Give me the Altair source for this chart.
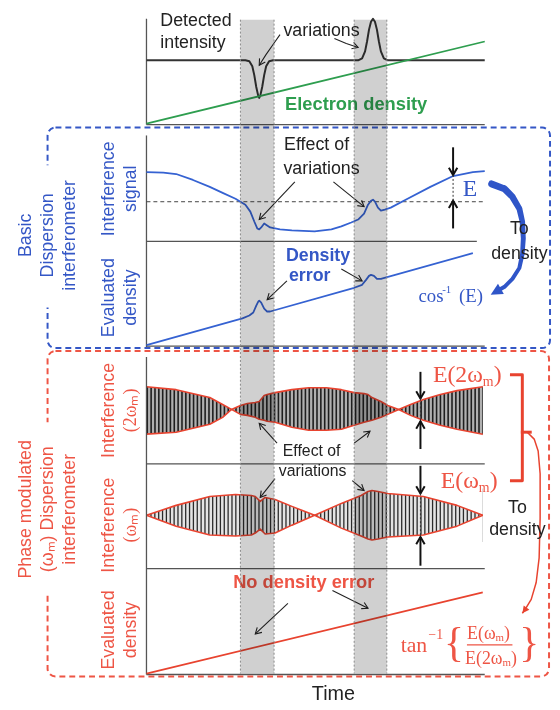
import math
import altair as alt
import pandas as pd

# ------------------------------------------------------------------
# Values read off the reference schematic (figure units: time runs
# along x from 148 to 490, signals are given in the same drawing units)
# ------------------------------------------------------------------
BAND_T0 = [243, 358]
BAND_T1 = [277, 391]
BAND_TOP, BAND_BOTTOM = 16, 677

# top panel: detected intensity (dip and peak) and electron density
INT_T = [148, 248, 252, 255, 257, 259, 261, 262, 263, 265, 267, 269, 272, 276,
         362, 366, 369, 371, 373, 375, 377, 379, 381, 383, 385, 388, 392, 490]
INT_V = [57, 57, 58, 63, 72, 84, 93, 95, 93, 84, 72, 63, 58, 57,
         57, 55, 48, 38, 26, 18, 15, 18, 26, 38, 48, 55, 57, 57]
NE_T = [148, 490]
NE_V = [121, 38]

# basic dispersion interferometer: interference signal
SIG_T = [148, 165, 178, 195, 212, 225, 238, 248, 253, 257, 260, 262, 264, 267, 270, 273,
         283, 295, 318, 335, 345, 355, 362, 368, 372, 375, 377, 379, 382, 385, 389, 395,
         412, 435, 458, 478, 490]
SIG_V = [170, 170.5, 172, 178, 185, 191, 197, 203, 210, 220, 227, 228, 226, 222, 224, 226,
         228, 229, 230, 228, 225, 221, 218, 212, 203, 199, 198, 200, 206, 209, 208, 206,
         197, 185, 174, 170, 169]
SIG_REF = 200

# basic DI: evaluated density
EVB_T = [148, 245, 252, 256, 259, 261, 262, 264, 267, 270, 273, 358, 366, 370, 373,
         375, 378, 381, 385, 478]
EVB_V = [345, 318, 315, 312, 305, 301, 300, 302, 308, 311, 311, 287, 284, 279, 275,
         274, 275, 278, 278, 252]

# phase-modulated DI: envelope of the 2*wm interference signal
ENV2_T = [148, 178, 212, 225, 234, 243, 250, 258, 262, 267, 270, 278, 295, 312, 330,
          345, 358, 368, 372, 376, 385, 392, 403, 415, 428, 445, 462, 488]
ENV2_UP = [387, 390, 398, 405, 410, 406, 404, 403, 402, 396, 395, 393, 390, 388, 388,
           390, 393, 394, 395, 398, 402, 406, 410, 405, 400, 395, 391, 387]
ENV2_LO = [435, 433, 425, 418, 410, 415, 416, 418, 420, 421, 422, 423, 428, 431, 431,
           430, 426, 423, 422, 421, 418, 415, 410, 416, 421, 426, 430, 435]
ENV2_MID, ENV2_W = 411, 50

# phase-modulated DI: envelope of the wm interference signal
ENV1_T = [148, 178, 212, 238, 254, 258, 263, 268, 278, 295, 318, 345, 365, 372, 376,
          382, 392, 428, 462, 488]
ENV1_UP = [517, 507, 498, 496, 497, 498, 503, 499, 501, 508, 517, 505, 497, 493, 492,
           493, 495, 498, 507, 517]
ENV1_LO = [517, 528, 537, 538, 537, 535, 531, 536, 535, 527, 517, 530, 538, 541, 542,
           541, 539, 537, 528, 517]
ENV1_MID, ENV1_W = 517, 54

# phase-modulated DI: evaluated density
EVR_T = [148, 488]
EVR_V = [677, 595]

# ------------------------------------------------------------------
BLUE = "#3457c6"
RED = "#ee5545"
RED_LINE = "#e8432f"
GREEN = "#2e9e4f"
BLACK = "#222222"
AXIS = "#555555"

XS = alt.Scale(domain=[8, 558], nice=False, zero=False)
YS = alt.Scale(domain=[8, 708], nice=False, zero=False, reverse=True)


def X(f="x"):
    return alt.X(f"{f}:Q", scale=XS, axis=None)


def Y(f="y"):
    return alt.Y(f"{f}:Q", scale=YS, axis=None)


def paths_df(paths):
    rows = []
    for i, (xs, ys) in enumerate(paths):
        for j, (a, b) in enumerate(zip(xs, ys)):
            rows.append({"id": i, "o": j, "x": a, "y": b})
    return pd.DataFrame(rows)


def line_layer(paths, color, width, dash=None, cap="butt"):
    kw = dict(color=color, strokeWidth=width, strokeCap=cap, strokeJoin="round", opacity=1)
    if dash:
        kw["strokeDash"] = dash
    return alt.Chart(paths_df(paths)).mark_line(**kw).encode(
        x=X(), y=Y(), detail="id:N", order="o:Q")


def area_layer(parts, color):
    rows = []
    for i, (xs, y1, y2) in enumerate(parts):
        for a, b, c in zip(xs, y1, y2):
            rows.append({"id": i, "x": a, "y": b, "y2": c})
    return alt.Chart(pd.DataFrame(rows)).mark_area(color=color, opacity=1).encode(
        x=X(), y=Y(), y2=alt.Y2("y2:Q"), detail="id:N")


OPEN_HEAD = "M -0.75 1.3 L 0 0 L 0.75 1.3"
FILL_HEAD = "M 0 0 L 0.85 1.7 L -0.85 1.7 Z"


def head_layer(paths, color, size, width=1.2, filled=False):
    rows = []
    for xs, ys in paths:
        dx = xs[-1] - xs[-2]
        dy = ys[-1] - ys[-2]
        rows.append({"x": xs[-1], "y": ys[-1],
                     "a": math.degrees(math.atan2(dx, -dy)) % 360})
    return alt.Chart(pd.DataFrame(rows)).mark_point(
        shape=FILL_HEAD if filled else OPEN_HEAD, size=size, filled=filled,
        color=color, strokeWidth=width, opacity=1, strokeJoin="miter").encode(
        x=X(), y=Y(), angle=alt.Angle("a:Q", scale=None))


def text_layer(rows, font="Liberation Sans", weight="normal", align="center"):
    df = pd.DataFrame(rows, columns=["t", "x", "y", "s", "c", "a"])
    return alt.Chart(df).mark_text(font=font, fontWeight=weight, align=align,
                                   baseline="middle").encode(
        x=X(), y=Y(), text="t:N", size=alt.Size("s:Q", scale=None),
        color=alt.Color("c:N", scale=None), angle=alt.Angle("a:Q", scale=None))


def rect_df(x, x2, y, y2):
    return pd.DataFrame({"x": x, "x2": x2, "y": y, "y2": y2})


layers = []

# --- modulated interference carriers (fill, stripes, mask) ---
layers.append(area_layer([(ENV2_T, ENV2_UP, ENV2_LO)], "#b0b0b0"))
layers.append(area_layer([(ENV1_T, ENV1_UP, ENV1_LO)], "#e4e4e4"))
layers.append(line_layer([([148, 488], [ENV2_MID, ENV2_MID])], "#1e1e1e", ENV2_W, dash=[1.6, 2.3]))
layers.append(line_layer([([148, 488], [ENV1_MID, ENV1_MID])], "#2a2a2a", ENV1_W, dash=[1.3, 2.6]))
top2 = ENV2_MID - ENV2_W / 2 - 3
bot2 = ENV2_MID + ENV2_W / 2 + 3
top1 = ENV1_MID - ENV1_W / 2 - 3
bot1 = ENV1_MID + ENV1_W / 2 + 3
layers.append(area_layer([
    (ENV2_T, [top2] * len(ENV2_T), ENV2_UP),
    (ENV2_T, ENV2_LO, [bot2] * len(ENV2_T)),
    (ENV1_T, [top1] * len(ENV1_T), ENV1_UP),
    (ENV1_T, ENV1_LO, [bot1] * len(ENV1_T)),
], "white"))
layers.append(line_layer([(ENV2_T, ENV2_UP), (ENV2_T, ENV2_LO),
                          (ENV1_T, ENV1_UP), (ENV1_T, ENV1_LO)], RED_LINE, 1.6))

# --- panel frames ---
layers.append(line_layer([
    ([148, 148], [15, 122]), ([148, 490], [122, 122]),
    ([148, 148], [133, 347]), ([148, 482], [240, 240]), ([148, 490], [346, 346]),
    ([148, 148], [357, 678]), ([148, 490], [465, 465]), ([148, 490], [571, 571]),
    ([148, 490], [678, 678]),
], AXIS, 1.3))
layers.append(line_layer([([148, 490], [SIG_REF, SIG_REF])], "#444444", 1, dash=[4, 3]))

# --- signals ---
layers.append(line_layer([(INT_T, INT_V)], "#333333", 2))
layers.append(line_layer([(NE_T, NE_V)], GREEN, 1.8))
layers.append(line_layer([(SIG_T, SIG_V), (EVB_T, EVB_V)], "#3562d2", 1.8))
layers.append(line_layer([(EVR_T, EVR_V)], RED_LINE, 1.8))

# --- dashed group boxes ---
layers.append(alt.Chart(rect_df([48], [556], [125], [348])).mark_rect(
    fillOpacity=0, stroke=BLUE, strokeWidth=2, strokeDash=[6, 4], cornerRadius=8).encode(
    x=X(), x2=alt.X2("x2:Q"), y=Y(), y2=alt.Y2("y2:Q")))
layers.append(alt.Chart(rect_df([48], [555], [351], [680])).mark_rect(
    fillOpacity=0, stroke=RED, strokeWidth=2, strokeDash=[6, 4], cornerRadius=8).encode(
    x=X(), x2=alt.X2("x2:Q"), y=Y(), y2=alt.Y2("y2:Q")))
layers.append(line_layer([([48, 48], [163, 307]), ([48, 48], [423, 597])], "white", 6))

# --- thin annotation arrows ---
thin = [
    ([283, 276, 269, 262], [31, 41, 51, 62]),
    ([338, 350, 362], [35, 40, 44]),
    ([298, 262], [180, 218]),
    ([337, 368], [180, 205]),
    ([290, 270], [280, 299]),
    ([345, 366], [268, 280]),
    ([280, 262], [444, 424]),
    ([358, 374], [444, 432]),
    ([278, 263], [480, 499]),
    ([356, 368], [482, 492]),
    ([291, 258], [606, 637]),
    ([336, 372], [593, 611]),
]
layers.append(line_layer(thin, "#222222", 1.1))
layers.append(head_layer(thin, "#222222", 85, width=1.1))

# --- E arrows (thick) ---
ear = [
    ([458, 458], [145, 173]), ([458, 458], [227, 199]),
    ([425, 425], [372, 399]), ([425, 425], [450, 422]),
    ([425, 425], [467, 495]), ([425, 425], [568, 539]),
]
layers.append(line_layer(ear, "#111111", 2))
layers.append(head_layer(ear, "#111111", 130, width=2))
layers.append(line_layer([([458, 458], [173, 199]), ([425, 425], [399, 422]),
                          ([425, 425], [495, 539])], "#333333", 1, dash=[2, 2]))

# --- big blue "to density" arrow ---
ARC_X = [497, 510, 518, 525, 528, 529, 528, 525, 518, 510, 503]
ARC_Y = [182, 187, 195, 207, 220, 237, 253, 267, 278, 286, 290]
ARC_W = [7, 7, 6.5, 6, 5.5, 5, 4.5, 4, 4, 4, 4]
layers.append(alt.Chart(pd.DataFrame({"o": range(len(ARC_X)), "x": ARC_X, "y": ARC_Y, "w": ARC_W}))
              .mark_trail(color="#2f55c8").encode(x=X(), y=Y(), size=alt.Size("w:Q", scale=None),
                                                 order="o:Q"))
layers.append(head_layer([([510, 496], [286, 294])], "#2f55c8", 196, filled=True))

# --- red bracket and thin red arrow ---
layers.append(line_layer([([517, 528, 528, 517], [375, 375, 482, 482]),
                          ([528, 536], [433, 433])], RED_LINE, 3, cap="square"))
rcurve = ([533, 540, 544, 546, 546, 545, 542, 537, 531, 528],
          [433, 440, 452, 475, 520, 560, 585, 602, 612, 616])
layers.append(line_layer([rcurve], RED_LINE, 1.5))
layers.append(head_layer([rcurve], RED_LINE, 70, filled=True))
layers.append(line_layer([([472, 518], [648, 648])], RED, 1.2))

# --- texts ---
layers.append(text_layer([
    ("variations", 325, 27, 18, BLACK, 0),
    ("Effect of", 320, 143, 18, BLACK, 0),
    ("variations", 325, 167, 18, BLACK, 0),
    ("To", 525, 228, 18, BLACK, 0),
    ("density", 525, 253, 18, BLACK, 0),
    ("Effect of", 315, 452, 16, BLACK, 0),
    ("variations", 316, 472, 16, BLACK, 0),
    ("To", 523, 510, 18, BLACK, 0),
    ("density", 523, 532, 18, BLACK, 0),
    ("Time", 337, 698, 20, BLACK, 0),
    ("Basic", 26, 234, 18, BLUE, 270),
    ("Dispersion", 49, 234, 18, BLUE, 270),
    ("interferometer", 71, 234, 18, BLUE, 270),
    ("Interference", 110, 187, 18, BLUE, 270),
    ("signal", 132, 187, 18, BLUE, 270),
    ("Evaluated", 110, 297, 18, BLUE, 270),
    ("density", 132, 297, 18, BLUE, 270),
    ("Phase modulated", 26, 511, 18, RED, 270),
    ("(ωₘ) Dispersion", 49, 511, 18, RED, 270),
    ("interferometer", 71, 511, 18, RED, 270),
    ("Interference", 110, 411, 18, RED, 270),
    ("Interference", 110, 527, 18, RED, 270),
    ("Evaluated", 110, 633, 18, RED, 270),
    ("density", 132, 633, 18, RED, 270),
]))
layers.append(text_layer([
    ("Detected", 162, 17, 18, BLACK, 0),
    ("intensity", 162, 40, 18, BLACK, 0),
], align="left"))
layers.append(text_layer([
    ("Electron density", 360, 101, 18.5, GREEN, 0),
    ("No density error", 307, 585, 18.5, RED, 0),
], weight="bold"))
layers.append(text_layer([
    ("Density", 289, 255, 18, BLUE, 0),
    ("error", 292, 275, 18, BLUE, 0),
], weight="bold", align="left"))
layers.append(text_layer([
    ("E", 475, 187, 24, BLUE, 0),
    ("(2ωₘ)", 132, 411, 18, RED, 270),
    ("(ωₘ)", 132, 527, 18, RED, 270),
    ("{", 459, 646, 42, RED, 0),
    ("}", 535, 646, 42, RED, 0),
], font="Liberation Serif"))
layers.append(text_layer([
    ("cos", 423, 295, 19, BLUE, 0),
    ("-1", 447, 289, 11, BLUE, 0),
    ("(E)", 464, 295, 19, BLUE, 0),
    ("m", 488, 382, 14, RED, 0),
    (")", 499, 375, 24, RED, 0),
    ("m", 484, 489, 14, RED, 0),
    (")", 495, 482, 24, RED, 0),
    ("tan", 405, 648, 22, RED, 0),
    ("−1", 433, 638, 14, RED, 0),
    ("m", 501, 641, 11, RED, 0),
    (")", 509.5, 637, 18, RED, 0),
    ("m", 508, 666, 11, RED, 0),
    (")", 516.5, 662, 18, RED, 0),
], font="Liberation Serif", align="left"))
layers.append(text_layer([
    ("E(2ω", 488, 375, 24, RED, 0),
    ("E(ω", 484, 482, 24, RED, 0),
    ("E(ω", 501, 637, 18, RED, 0),
    ("E(2ω", 508, 662, 18, RED, 0),
], font="Liberation Serif", align="right"))

# --- shaded variation windows (multiplied over everything) ---
layers.append(alt.Chart(rect_df(BAND_T0, BAND_T1, [BAND_TOP] * 2, [BAND_BOTTOM] * 2)).mark_rect(
    color="#d0d0d0", opacity=1, blend="multiply").encode(
    x=X(), x2=alt.X2("x2:Q"), y=Y(), y2=alt.Y2("y2:Q")))
layers.append(line_layer([([t, t], [BAND_TOP, BAND_BOTTOM]) for t in BAND_T0 + BAND_T1],
                         "#8a8a8a", 1, dash=[2, 2]))

chart = alt.layer(*layers).properties(
    width=550, height=700, padding=0, autosize="none", background="white"
).configure_view(strokeWidth=0)

chart.save("out.html", embed_options={"renderer": "svg", "actions": False})
